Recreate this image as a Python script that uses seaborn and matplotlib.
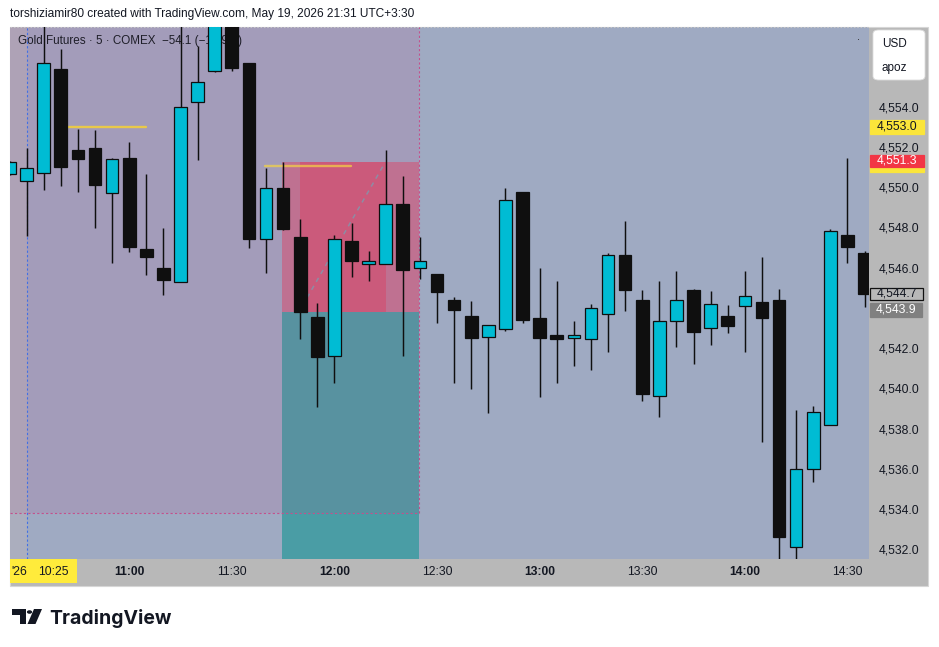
import numpy as np
import matplotlib
matplotlib.use("Agg")
import matplotlib.pyplot as plt
import matplotlib.transforms as mtransforms
from matplotlib.patches import Rectangle, Polygon, Circle, FancyBboxPatch
import seaborn as sns

# ---------------- data ----------------
times = ["10:25", "10:30", "10:35", "10:40", "10:45", "10:50", "10:55",
         "11:00", "11:05", "11:10", "11:15", "11:20", "11:25",
         "11:30", "11:35", "11:40", "11:45", "11:50", "11:55",
         "12:00", "12:05", "12:10", "12:15", "12:20", "12:25",
         "12:30", "12:35", "12:40", "12:45", "12:50", "12:55",
         "13:00", "13:05", "13:10", "13:15", "13:20", "13:25",
         "13:30", "13:35", "13:40", "13:45", "13:50", "13:55",
         "14:00", "14:05", "14:10", "14:15", "14:20", "14:25",
         "14:30", "14:35"]
opens = [4550.65, 4550.30, 4550.70, 4555.85, 4551.85, 4551.95, 4549.70,
         4551.45, 4546.90, 4546.00, 4545.30, 4554.20, 4555.75,
         4559.00, 4556.15, 4547.40, 4549.95, 4547.50, 4543.55,
         4541.60, 4547.30, 4546.20, 4546.20, 4549.15, 4546.00,
         4545.70, 4544.40, 4543.60, 4542.55, 4542.95, 4549.75,
         4543.50, 4542.65, 4542.50, 4542.45, 4543.70, 4546.60,
         4544.40, 4539.60, 4543.35, 4544.90, 4543.00, 4543.60,
         4544.10, 4544.30, 4544.40, 4532.10, 4536.00, 4538.20,
         4547.60, 4546.70]
highs = [4551.30, 4551.95, 4558.50, 4556.85, 4552.90, 4552.85, 4551.45,
         4552.25, 4550.65, 4547.95, 4558.50, 4557.00, 4559.20,
         4559.50, 4556.15, 4550.95, 4551.25, 4548.40, 4544.25,
         4547.60, 4548.20, 4546.80, 4551.85, 4550.55, 4547.50,
         4545.70, 4544.55, 4544.35, 4543.15, 4549.95, 4549.75,
         4546.00, 4545.35, 4543.35, 4544.20, 4546.70, 4548.30,
         4544.90, 4545.35, 4545.85, 4544.95, 4544.85, 4544.15,
         4545.85, 4546.50, 4544.95, 4538.90, 4539.10, 4547.90,
         4551.45, 4546.80]
lows = [4550.60, 4547.55, 4549.85, 4550.05, 4549.75, 4547.95, 4546.25,
        4546.75, 4545.65, 4544.65, 4545.30, 4551.35, 4555.70,
        4555.75, 4546.95, 4545.75, 4547.85, 4542.45, 4539.05,
        4540.25, 4545.55, 4545.35, 4546.20, 4541.60, 4545.45,
        4543.25, 4540.25, 4539.95, 4538.75, 4542.85, 4543.25,
        4539.55, 4540.25, 4541.10, 4540.90, 4541.80, 4543.85,
        4539.35, 4538.55, 4542.05, 4541.20, 4542.15, 4542.75,
        4541.80, 4537.35, 4531.40, 4531.40, 4535.35, 4538.20,
        4546.25, 4544.05]
closes = [4551.25, 4550.95, 4556.15, 4551.00, 4551.40, 4550.10, 4551.40,
          4547.00, 4546.50, 4545.40, 4554.00, 4555.20, 4558.60,
          4555.90, 4547.40, 4549.95, 4547.90, 4543.80, 4541.55,
          4547.40, 4546.30, 4546.30, 4549.15, 4545.90, 4546.30,
          4544.80, 4543.90, 4542.50, 4543.15, 4549.35, 4543.40,
          4542.50, 4542.45, 4542.65, 4544.00, 4546.60, 4544.90,
          4539.70, 4543.35, 4544.40, 4542.80, 4544.20, 4543.10,
          4544.60, 4543.50, 4532.60, 4536.00, 4538.80, 4547.80,
          4547.00, 4544.70]

tick_times = ["11:00", "11:30", "12:00", "12:30", "13:00", "13:30", "14:00", "14:30"]
bold_times = ["11:00", "12:00", "13:00", "14:00"]
price_ticks = [4554.0, 4552.0, 4550.0, 4548.0, 4546.0, 4542.0, 4540.0,
               4538.0, 4536.0, 4534.0, 4532.0]

hline_levels = [4553.0, 4551.05]
stop_price = 4551.25
entry_price = 4543.8
last_price = 4544.7
prev_price = 4543.9
alert_price = 4551.3

# ---------------- figure ----------------
W, H, DPI = 939, 647, 100
sns.set_theme(style="white")
plt.rcParams['font.family'] = ['Liberation Sans', 'DejaVu Sans']

fig = plt.figure(figsize=(W / DPI, H / DPI), dpi=DPI)
fig.patch.set_facecolor('white')


def fx(px):
    return px / W


def fy(py):
    return 1 - py / H


# grey frame for scales
fig.patches.append(Rectangle((fx(10), fy(586)), fx(928) - fx(10), fy(27) - fy(586),
                             transform=fig.transFigure, facecolor='#B8B8B8',
                             edgecolor='#D6D6D6', lw=0.8, zorder=-5))

ax = fig.add_axes([fx(10), fy(559), fx(869) - fx(10), fy(27) - fy(559)])
ax.set_zorder(1)
XMIN, XMAX = 0.029, 50.26
YMIN, YMAX = 4531.52, 4557.95
ax.set_facecolor('#9FAAC2')

# zones
zone_top = 4533.8
ax.add_patch(Rectangle((XMIN, YMIN), 1.0 - XMIN, YMAX - YMIN, fc='#ABAEBE', lw=0, zorder=0.5))
ax.add_patch(Rectangle((XMIN, zone_top), 1.0 - XMIN, YMAX - zone_top, fc='#AEA2B6', lw=0, zorder=0.6))
ax.add_patch(Rectangle((1.0, zone_top), 23.95 - 1.0, YMAX - zone_top, fc='#A39CBA', lw=0, zorder=0.6))
# position tool
ax.add_patch(Rectangle((15.95, entry_price), 8.0, stop_price - entry_price, fc='#BF7191', lw=0, zorder=0.8))
ax.add_patch(Rectangle((16.99, entry_price), 22.02 - 16.99, stop_price - entry_price, fc='#CB5A7B', lw=0, zorder=0.9))
ax.add_patch(Rectangle((15.95, zone_top), 8.0, entry_price - zone_top, fc='#5892A0', lw=0, zorder=0.8))
ax.add_patch(Rectangle((15.95, YMIN), 8.0, zone_top - YMIN, fc='#4A9DA5', lw=0, zorder=0.8))

# dashed guide lines
ax.axvline(1.0, color='#4170E6', lw=0.8, ls=(0, (2, 2)), zorder=1.2)
ax.plot([XMIN, 23.95], [zone_top, zone_top], color='#C4508C', lw=0.8, ls=(0, (2, 2)), zorder=1.2)
ax.plot([23.95, 23.95], [zone_top, YMAX], color='#C4508C', lw=0.8, ls=(0, (2, 2)), zorder=1.2)
ax.plot([XMIN, XMAX], [YMAX - 0.02, YMAX - 0.02], color='#C8C8C8', lw=0.8, ls=(0, (1.5, 1.5)), zorder=1.2, clip_on=False)

# horizontal drawings
ax.plot([3.36, 7.98], [hline_levels[0]] * 2, color='#E9C94A', lw=1.7, zorder=2)
ax.plot([14.94, 19.97], [hline_levels[1]] * 2, color='#F5D443', alpha=0.7, lw=1.7, zorder=2)
ax.plot([17.4, 21.95], [4544.5, 4551.2], color='#8E8CA4', lw=1.1, ls=(0, (3, 3)), zorder=2)

# legend text
ax.text((18 - 10) / 859, 1 - (41 - 27) / 532, "Gold Futures · 5 · COMEX  \u221254.1 (\u22121.19%)",
        transform=ax.transAxes, ha='left', va='center', fontsize=8.4, color='#1E1E28', zorder=2.2)

# candles
x = np.arange(len(opens))
o = np.array(opens)
c = np.array(closes)
up = c >= o
body_low = np.minimum(o, c)
body_h = np.maximum(np.abs(c - o), 0.06)
ax.vlines(x, lows, highs, color='#0F0F0F', lw=1.05, zorder=3)
ax.bar(x, body_h, bottom=body_low, width=0.74,
       color=np.where(up, '#00BCD4', '#0F0F0F'), edgecolor='#0F0F0F', lw=0.9, zorder=4)

ax.set_xlim(XMIN, XMAX)
ax.set_ylim(YMIN, YMAX)
for s in ax.spines.values():
    s.set_visible(False)
ax.grid(False)

# price scale
ax.yaxis.tick_right()
ax.set_yticks(price_ticks)
ax.set_yticklabels([f"{v:,.1f}" for v in price_ticks])
ax.tick_params(axis='y', length=0, pad=6.8, labelsize=8.7, labelcolor='#131722')

# time scale
tpos = [times.index(t) for t in tick_times]
ax.set_xticks(tpos)
ax.set_xticklabels(tick_times)
ax.tick_params(axis='x', length=0, pad=5.3, labelsize=8.7, labelcolor='#131722')
for lab in ax.get_xticklabels():
    if lab.get_text() in bold_times:
        lab.set_fontweight('bold')

# price labels on scale
trans = mtransforms.blended_transform_factory(fig.transFigure, ax.transData)
ppx = 1 / 20.13


def price_label(price, text, fc, tc, ec=None, half=7, x0=870, x1=924, weight='normal'):
    ax.add_artist(Rectangle((fx(x0), price - half * ppx), fx(x1) - fx(x0), 2 * half * ppx,
                            transform=trans, fc=fc, ec=ec if ec else fc, lw=0.9,
                            clip_on=False, zorder=10))
    if text:
        ax.text(fx((x0 + x1) / 2), price, text, transform=trans, ha='center', va='center',
                color=tc, fontsize=8.7, clip_on=False, zorder=11, fontweight=weight)


price_label(hline_levels[0], f"{hline_levels[0]:,.1f}", '#FBE53A', '#131722')
price_label(4551.1, "", '#FBE53A', '#131722')
price_label(alert_price, f"{alert_price:,.1f}", '#F23645', 'white', half=6)
price_label(last_price, f"{last_price:,.1f}", '#B8B8B8', '#131722', ec='#111111', half=6, x1=923)
price_label(prev_price, f"{prev_price:,.1f}", '#808080', 'white', half=7, x1=922)

# currency box
fig.patches.append(FancyBboxPatch((fx(873), fy(80)), fx(925) - fx(873), fy(30) - fy(80),
                                  boxstyle="round,pad=0,rounding_size=0.006",
                                  transform=fig.transFigure, fc='white', ec='#DDDDDD', lw=0.6, zorder=5))
fig.text(fx(882), fy(44), "USD", fontsize=8.5, color='#131722', va='center', ha='left', zorder=6)
fig.text(fx(882), fy(68), "apoz", fontsize=8.5, color='#131722', va='center', ha='left', zorder=6)
fig.text(fx(858), fy(37), ".", fontsize=8, color='#222222', va='center', ha='center', zorder=6)

# date box on time scale
fig.patches.append(Rectangle((fx(10), fy(583)), fx(77) - fx(10), fy(559) - fy(583),
                             transform=fig.transFigure, fc='#FFEB3B', lw=0, zorder=5))
fig.text(fx(19), fy(572), "'26", fontsize=8.7, color='#131722', va='center', ha='center', zorder=6)
fig.text(fx(53), fy(572), times[0], fontsize=8.7, color='#131722', va='center', ha='center', zorder=6)

# header
fig.text(fx(10), fy(14), "torshiziamir80 created with TradingView.com, May 19, 2026 21:31 UTC+3:30",
         fontsize=8.6, color='#131722', va='center', ha='left')

# TradingView logo
def P(px, py):
    return (fx(px), fy(py))

logo_col = '#131722'
fig.patches.append(Polygon([P(12, 609), P(26, 609), P(26, 624), P(19.5, 624), P(19.5, 615), P(12, 615)],
                           closed=True, transform=fig.transFigure, fc=logo_col, lw=0))
fig.patches.append(Circle(P(29.5, 612), 2.6 / W, transform=fig.transFigure, fc=logo_col, lw=0))
fig.patches.append(Polygon([P(34, 609), P(42, 609), P(35.5, 624), P(27.5, 624)],
                           closed=True, transform=fig.transFigure, fc=logo_col, lw=0))
fig.text(fx(49), fy(624), "TradingView", fontsize=14, fontweight='bold', family=['Inter', 'DejaVu Sans'],
         color=logo_col, va='baseline', ha='left')

fig.savefig("out.png", dpi=DPI)
